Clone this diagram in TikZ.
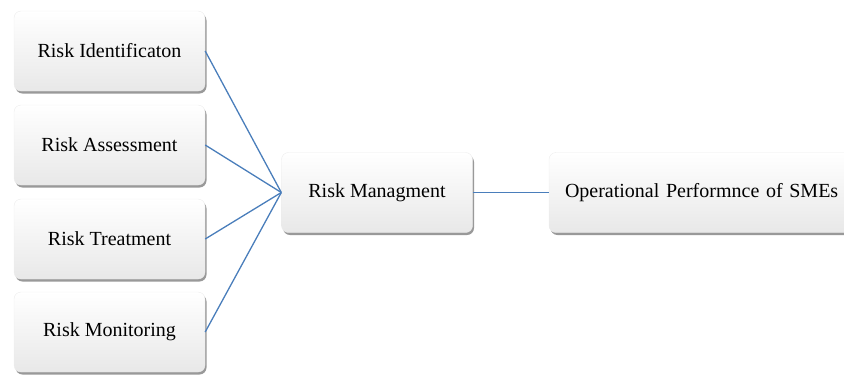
\documentclass[tikz,border=0pt]{standalone}
\usepackage{fontspec}
\setmainfont{Liberation Serif}
\usetikzlibrary{shadows}

\definecolor{linkblue}{RGB}{74,126,187}

\tikzset{
  box/.style={rectangle, rounded corners=7pt, draw=gray!15, thin,
    top color=white, bottom color=gray!18, minimum width=191pt,
    minimum height=80pt, inner sep=2pt, font=\fontsize{20}{23}\selectfont,
    drop shadow={shadow xshift=1.5pt, shadow yshift=-2.5pt, fill=black, opacity=.4}},
  link/.style={draw=linkblue, line width=1.3pt}
}

\begin{document}
\begin{tikzpicture}[x=1pt, y=-1pt]
\useasboundingbox (0,0) rectangle (844,376);
\node[box] (ident) at (109.5,51) {Risk Identificaton};
\node[box] (assess) at (109.5,145) {Risk Assessment};
\node[box] (treat) at (109.5,239) {Risk Treatment};
\node[box] (monitor) at (109.5,332) {Risk Monitoring};
\node[box] (manage) at (377,192.5) {Risk Managment};
% right box runs off the page edge
\node[box, minimum width=320pt, inner xsep=16pt, text width=288pt, align=left] (perf) at (709,192.5) {Operational Performnce of SMEs};
\draw[link] (ident.east) -- (manage.west);
\draw[link] (assess.east) -- (manage.west);
\draw[link] (treat.east) -- (manage.west);
\draw[link] (monitor.east) -- (manage.west);
\draw[link] (manage.east) -- (perf.west);
\end{tikzpicture}
\end{document}
